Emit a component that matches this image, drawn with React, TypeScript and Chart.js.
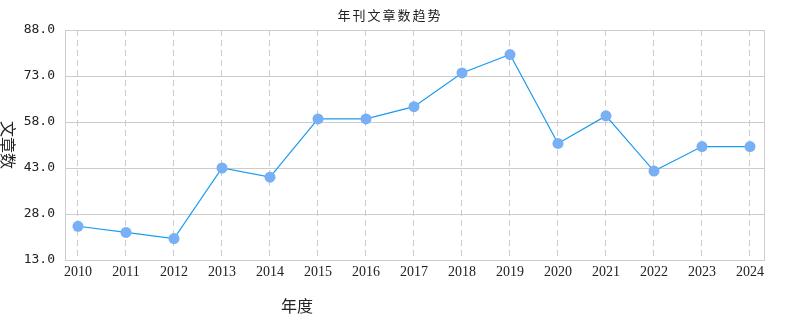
import React, { useEffect, useRef } from "react";
import { Chart, registerables } from "chart.js";

Chart.register(...registerables);

const years = [2010, 2011, 2012, 2013, 2014, 2015, 2016, 2017, 2018, 2019, 2020, 2021, 2022, 2023, 2024];
const articleCounts = [24, 22, 20, 43, 40, 59, 59, 63, 74, 80, 51, 60, 42, 50, 50];
const yTicks = [13, 28, 43, 58, 73, 88];
const chartTitle = "年刊文章数趋势";
const xTitle = "年度";
const yTitle = "文章数";

const textPlugin = {
  id: "textPlugin",
  beforeDatasetsDraw(chart: any) {
    const { ctx, chartArea } = chart;
    ctx.save();
    ctx.strokeStyle = "#cccccc";
    ctx.lineWidth = 1;
    ctx.setLineDash([]);
    ctx.strokeRect(
      Math.round(chartArea.left) + 0.5,
      Math.round(chartArea.top) + 0.5,
      Math.round(chartArea.right - chartArea.left),
      Math.round(chartArea.bottom - chartArea.top)
    );
    ctx.restore();
  },
  afterDraw(chart: any) {
    const { ctx } = chart;
    ctx.save();
    ctx.fillStyle = "#222";
    ctx.textAlign = "center";
    ctx.textBaseline = "middle";
    ctx.font = "13px 'Noto Sans CJK SC'";
    try { (ctx as any).letterSpacing = "2px"; } catch (e) {}
    ctx.fillText(chartTitle, 390, 15);
    try { (ctx as any).letterSpacing = "0px"; } catch (e) {}
    ctx.font = "16px 'Noto Sans CJK SC'";
    ctx.fillText(xTitle, 297, 306);
    ctx.translate(8, 145);
    ctx.rotate(Math.PI / 2);
    ctx.fillText(yTitle, 0, 0);
    ctx.restore();
  },
};

export default function App() {
  const ref = useRef<HTMLCanvasElement | null>(null);
  useEffect(() => {
    document.body.style.margin = "0";
    if (!ref.current) return;
    const chart = new Chart(ref.current, {
      type: "line",
      data: {
        datasets: [
          {
            data: years.map((y, i) => ({ x: y, y: articleCounts[i] })),
            borderColor: "#1a9bf0",
            borderWidth: 1.2,
            backgroundColor: "#78aff5",
            pointBackgroundColor: "#78aff5",
            pointBorderWidth: 0,
            pointRadius: 5.5,
            tension: 0,
          },
        ],
      },
      plugins: [textPlugin],
      options: {
        animation: false,
        responsive: false,
        maintainAspectRatio: false,
        layout: { padding: { top: 30, right: 26, left: 0, bottom: 0 } },
        plugins: { legend: { display: false }, tooltip: { enabled: false }, title: { display: false } },
        scales: {
          x: {
            type: "linear",
            min: 2010 - 13 / 48,
            max: 2024 + 14 / 48,
            afterBuildTicks: (scale: any) => {
              scale.ticks = years.map((v) => ({ value: v }));
            },
            afterFit: (scale: any) => {
              scale.height = 70;
            },
            grid: { color: "#cccccc", drawTicks: false, lineWidth: 1 },
            border: { display: false, dash: [6, 4] },
            ticks: {
              color: "#222",
              padding: 4,
              font: { family: "'Liberation Serif'", size: 14 },
              callback: (v: any) => String(v),
              maxRotation: 0,
              autoSkip: false,
            },
          },
          y: {
            min: 13,
            max: 88,
            afterBuildTicks: (scale: any) => {
              scale.ticks = yTicks.map((v) => ({ value: v }));
            },
            afterFit: (scale: any) => {
              scale.width = 65;
            },
            grid: { color: "#cccccc", drawTicks: false, lineWidth: 1 },
            border: { display: false },
            ticks: {
              color: "#222",
              padding: 10,
              font: { family: "'DejaVu Sans Mono'", size: 13 },
              callback: (v: any) => Number(v).toFixed(1),
            },
          },
        },
      },
    } as any);
    return () => chart.destroy();
  }, []);
  return (
    <div style={{ width: 790, height: 330 }}>
      <canvas ref={ref} width={790} height={330} style={{ width: 790, height: 330 }} />
    </div>
  );
}
